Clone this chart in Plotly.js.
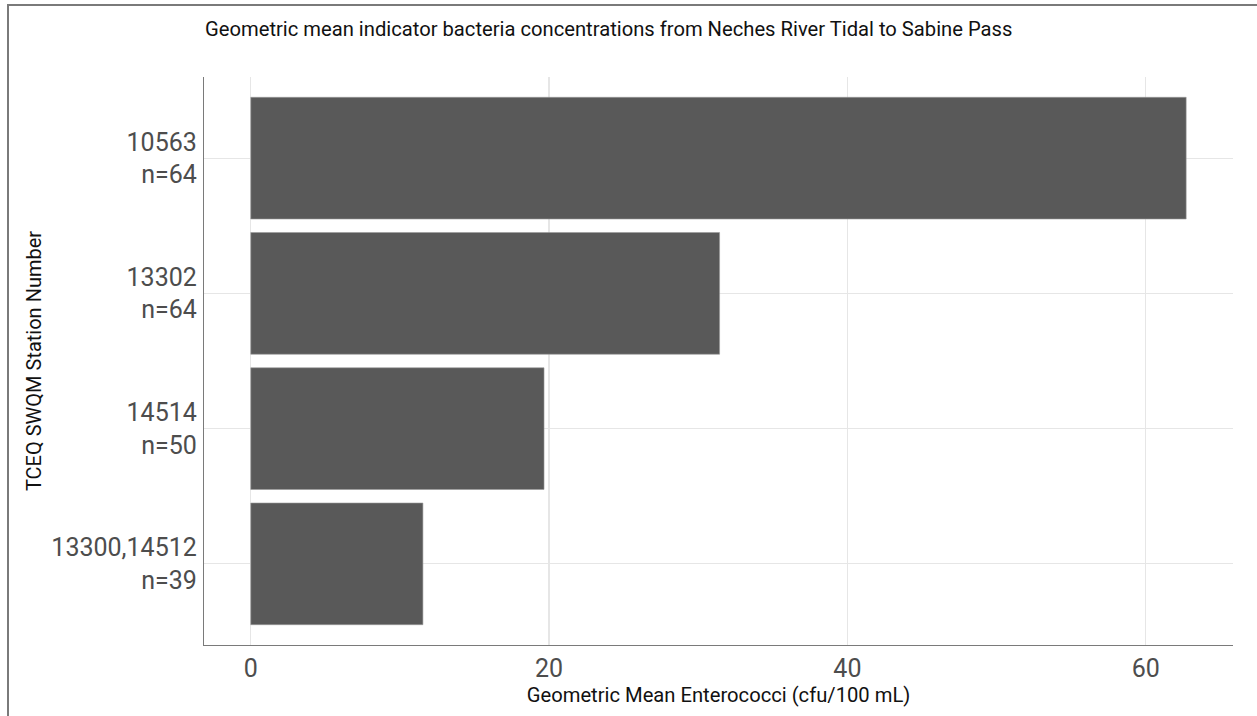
<!DOCTYPE html>
<html>
<head>
<meta charset="utf-8">
<script src="https://cdn.plot.ly/plotly-3.0.1.min.js"></script>
<style>
  html, body { margin: 0; padding: 0; background: #ffffff; }
  #wrap { position: relative; width: 1257px; height: 716px; overflow: hidden; }
  #chart { position: absolute; left: 0; top: 0; width: 1257px; height: 716px; }
  #frame { position: absolute; left: 7px; top: 4px; width: 1300px; height: 800px;
           border-left: 2px solid #7a7a7a; border-top: 2px solid #7a7a7a; pointer-events: none; }
</style>
</head>
<body>
<div id="wrap">
  <div id="chart"></div>
  <div id="frame"></div>
</div>
<script>
// Data (top bar first)
const stations = ["10563", "13302", "14514", "13300,14512"];
const sampleCounts = [64, 64, 50, 39];
const geomeans = [62.71, 31.43, 19.66, 11.54];
const xTickVals = [0, 20, 40, 60];
const xTickText = ["0", "20", "40", "60"];

const labels = stations.map((s, i) => s + "<br>n=" + sampleCounts[i]);

const FONT = "Roboto, 'Noto Sans', sans-serif";

const trace = {
  type: "bar",
  orientation: "h",
  y: labels.slice().reverse(),
  x: geomeans.slice().reverse(),
  marker: { color: "#595959", line: { color: "#9a9a9a", width: 0.6 } },
  width: 0.9,
  hoverinfo: "x+y"
};

const layout = {
  width: 1257,
  height: 716,
  margin: { l: 204, r: 24, t: 77, b: 71, pad: 0 },
  paper_bgcolor: "#ffffff",
  plot_bgcolor: "#ffffff",
  showlegend: false,
  font: { family: FONT, color: "#4d4d4d" },
  title: {
    text: "Geometric mean indicator bacteria concentrations from Neches River Tidal to Sabine Pass",
    font: { family: FONT, size: 20.2, color: "#111111" },
    x: 205 / 1257, xref: "container", xanchor: "left",
    y: 1 - 28.5 / 716, yref: "container", yanchor: "middle"
  },
  xaxis: {
    range: [-3.136, 65.85],
    tickvals: xTickVals,
    ticktext: xTickText,
    ticks: "",
    showgrid: true,
    gridcolor: "#e6e6e6",
    gridwidth: 1.2,
    zeroline: false,
    showline: true,
    linecolor: "#7a7a7a",
    linewidth: 1.2,
    tickfont: { family: FONT, size: 25, color: "#4d4d4d" },
    ticklabelstandoff: 1,
    title: {
      text: "Geometric Mean Enterococci (cfu/100 mL)",
      font: { family: FONT, size: 20.2, color: "#111111" },
      standoff: 5
    },
    fixedrange: true
  },
  yaxis: {
    type: "category",
    categoryorder: "array",
    categoryarray: labels.slice().reverse(),
    range: [-0.6, 3.6],
    ticks: "",
    showgrid: true,
    gridcolor: "#e6e6e6",
    gridwidth: 1.2,
    zeroline: false,
    showline: true,
    linecolor: "#7a7a7a",
    linewidth: 1.2,
    tickfont: { family: FONT, size: 25, color: "#4d4d4d" },
    ticklabelstandoff: 1,
    title: {
      text: "TCEQ SWQM Station Number",
      font: { family: FONT, size: 20, color: "#111111" },
      standoff: 4
    },
    fixedrange: true
  }
};

Plotly.newPlot("chart", [trace], layout, { displayModeBar: false, staticPlot: true });
</script>
</body>
</html>
